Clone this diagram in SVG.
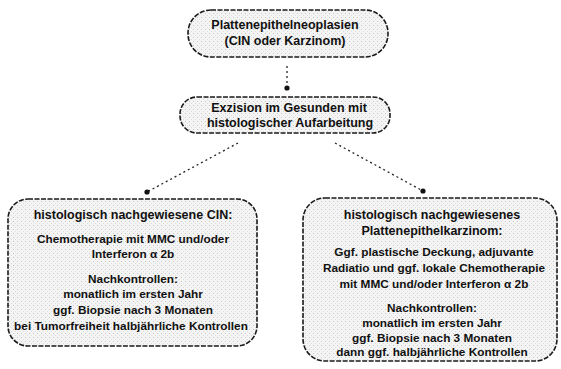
<svg xmlns="http://www.w3.org/2000/svg" width="561" height="369" viewBox="0 0 561 369">
<defs>
<marker id="dot" markerWidth="6" markerHeight="6" refX="3" refY="3" markerUnits="userSpaceOnUse">
<circle cx="3" cy="3" r="2.6" fill="#111"/>
</marker>
<pattern id="speck" width="4" height="4" patternUnits="userSpaceOnUse">
<rect width="4" height="4" fill="#f4f4f4"/>
<rect x="1" y="1" width="1" height="1" fill="#c8c8c8"/>
<rect x="3" y="3" width="1" height="1" fill="#dcdcdc"/>
</pattern>
</defs>
<style>
.box{fill:url(#speck);stroke:#1a1a1a;stroke-width:1.6;stroke-dasharray:5 1.5}
.t{font-family:"Liberation Sans",Arial,sans-serif;font-weight:bold;fill:#111;text-anchor:middle;font-size:11.8px}
.h{font-size:12.5px}
.c{fill:none;stroke:#222;stroke-width:1.3;stroke-dasharray:2 3;marker-end:url(#dot)}
</style>
<rect width="561" height="369" fill="#ffffff"/>
<g id="connectors">
<line class="c" x1="287" y1="66" x2="287" y2="88"/>
<line class="c" x1="238" y1="143" x2="147" y2="192"/>
<line class="c" x1="335" y1="143" x2="423" y2="191"/>
</g>
<g id="n1">
<rect class="box" x="188" y="10" width="200" height="47" rx="23"/>
<text class="t h" x="285" y="29">Plattenepithelneoplasien</text>
<text class="t h" x="285" y="45">(CIN oder Karzinom)</text>
</g>
<g id="n2">
<rect class="box" x="180" y="97" width="210" height="36" rx="17"/>
<text class="t h" x="289" y="112">Exzision im Gesunden mit</text>
<text class="t h" x="290" y="127">histologischer Aufarbeitung</text>
</g>
<g id="n3">
<rect class="box" x="8" y="199" width="249" height="147" rx="20"/>
<text class="t h" x="133" y="219">histologisch nachgewiesene CIN:</text>
<text class="t" x="133" y="243">Chemotherapie mit MMC und/oder</text>
<text class="t" x="133" y="258">Interferon α 2b</text>
<text class="t" x="133" y="283">Nachkontrollen:</text>
<text class="t" x="133" y="298">monatlich im ersten Jahr</text>
<text class="t" x="133" y="314">ggf. Biopsie nach 3 Monaten</text>
<text class="t" x="131" y="330">bei Tumorfreiheit halbjährliche Kontrollen</text>
</g>
<g id="n4">
<rect class="box" x="303" y="198" width="254" height="163" rx="22"/>
<text class="t h" x="432" y="219">histologisch nachgewiesenes</text>
<text class="t h" x="432" y="235">Plattenepithelkarzinom:</text>
<text class="t" x="434" y="256">Ggf. plastische Deckung, adjuvante</text>
<text class="t" x="434" y="272">Radiatio und ggf. lokale Chemotherapie</text>
<text class="t" x="434" y="288">mit MMC und/oder Interferon α 2b</text>
<text class="t" x="432" y="312">Nachkontrollen:</text>
<text class="t" x="432" y="327">monatlich im ersten Jahr</text>
<text class="t" x="432" y="342">ggf. Biopsie nach 3 Monaten</text>
<text class="t" x="432" y="356">dann ggf. halbjährliche Kontrollen</text>
</g>
</svg>
